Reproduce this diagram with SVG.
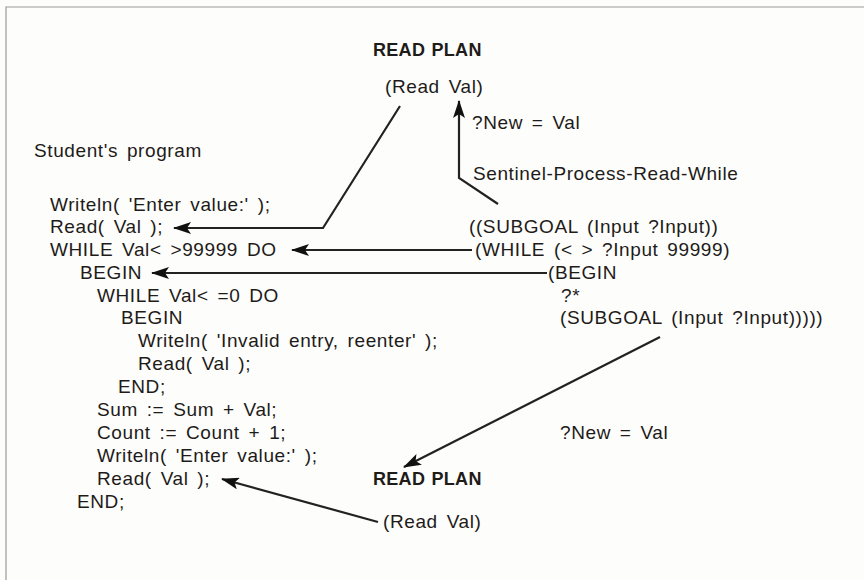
<svg xmlns="http://www.w3.org/2000/svg" width="864" height="580" viewBox="0 0 864 580">
<defs>
<style>
text{font-family:"Liberation Sans",Arial,sans-serif;font-size:19px;fill:#1e1b19;letter-spacing:0.6px;word-spacing:3px;white-space:pre}
.b{font-weight:bold;font-size:18px;letter-spacing:0.3px;word-spacing:1px}
.c{fill:none;stroke:#222;stroke-width:2.2}
.f{fill:none;stroke:#9a9a9a;stroke-width:1.2}
</style>
<marker id="ah" viewBox="0 0 18 12" refX="17" refY="6" markerWidth="18" markerHeight="12" orient="auto" markerUnits="userSpaceOnUse">
<path d="M0,0 L18,6 L0,12 L4,6 z" fill="#111"/>
</marker>
</defs>
<rect width="864" height="580" fill="#fdfdfc"/>
<path class="f" d="M6,580 V7 H864"/>

<g id="plan-top">
<text class="b" x="373" y="56">READ PLAN</text>
<text x="385" y="93">(Read Val)</text>
</g>
<g id="label-top">
<text x="472" y="129">?New = Val</text>
<text x="473" y="180">Sentinel-Process-Read-While</text>
</g>
<g id="student">
<text x="34" y="157">Student's program</text>
<text x="50" y="211">Writeln( 'Enter value:' );</text>
<text x="50" y="233">Read( Val );</text>
<text x="50" y="256">WHILE Val&lt; &gt;99999 DO</text>
<text x="80" y="279">BEGIN</text>
<text x="97" y="302">WHILE Val&lt; =0 DO</text>
<text x="121" y="324">BEGIN</text>
<text x="138" y="347">Writeln( 'Invalid entry, reenter' );</text>
<text x="138" y="370">Read( Val );</text>
<text x="118" y="393">END;</text>
<text x="97" y="416">Sum := Sum + Val;</text>
<text x="97" y="439">Count := Count + 1;</text>
<text x="97" y="462">Writeln( 'Enter value:' );</text>
<text x="97" y="485">Read( Val );</text>
<text x="77" y="508">END;</text>
</g>
<g id="plan-code">
<text x="469" y="233">((SUBGOAL (Input ?Input))</text>
<text x="475" y="256">(WHILE (&lt; &gt; ?Input 99999)</text>
<text x="548" y="279">(BEGIN</text>
<text x="561" y="302">?*</text>
<text x="560" y="324">(SUBGOAL (Input ?Input)))))</text>
</g>
<g id="label-bottom">
<text x="560" y="439">?New = Val</text>
</g>
<g id="plan-bottom">
<text class="b" x="373" y="485">READ PLAN</text>
<text x="383" y="528">(Read Val)</text>
</g>
<g id="connectors">
<path class="c" d="M400,106 L323,228 L174,228" marker-end="url(#ah)"/>
<path class="c" d="M472,250 L292,250" marker-end="url(#ah)"/>
<path class="c" d="M547,273 L152,273" marker-end="url(#ah)"/>
<path class="c" d="M498,204 L459,178 L459,101" marker-end="url(#ah)"/>
<path class="c" d="M660,337 L404,467" marker-end="url(#ah)"/>
<path class="c" d="M378,522 L222,479" marker-end="url(#ah)"/>
</g>
</svg>
